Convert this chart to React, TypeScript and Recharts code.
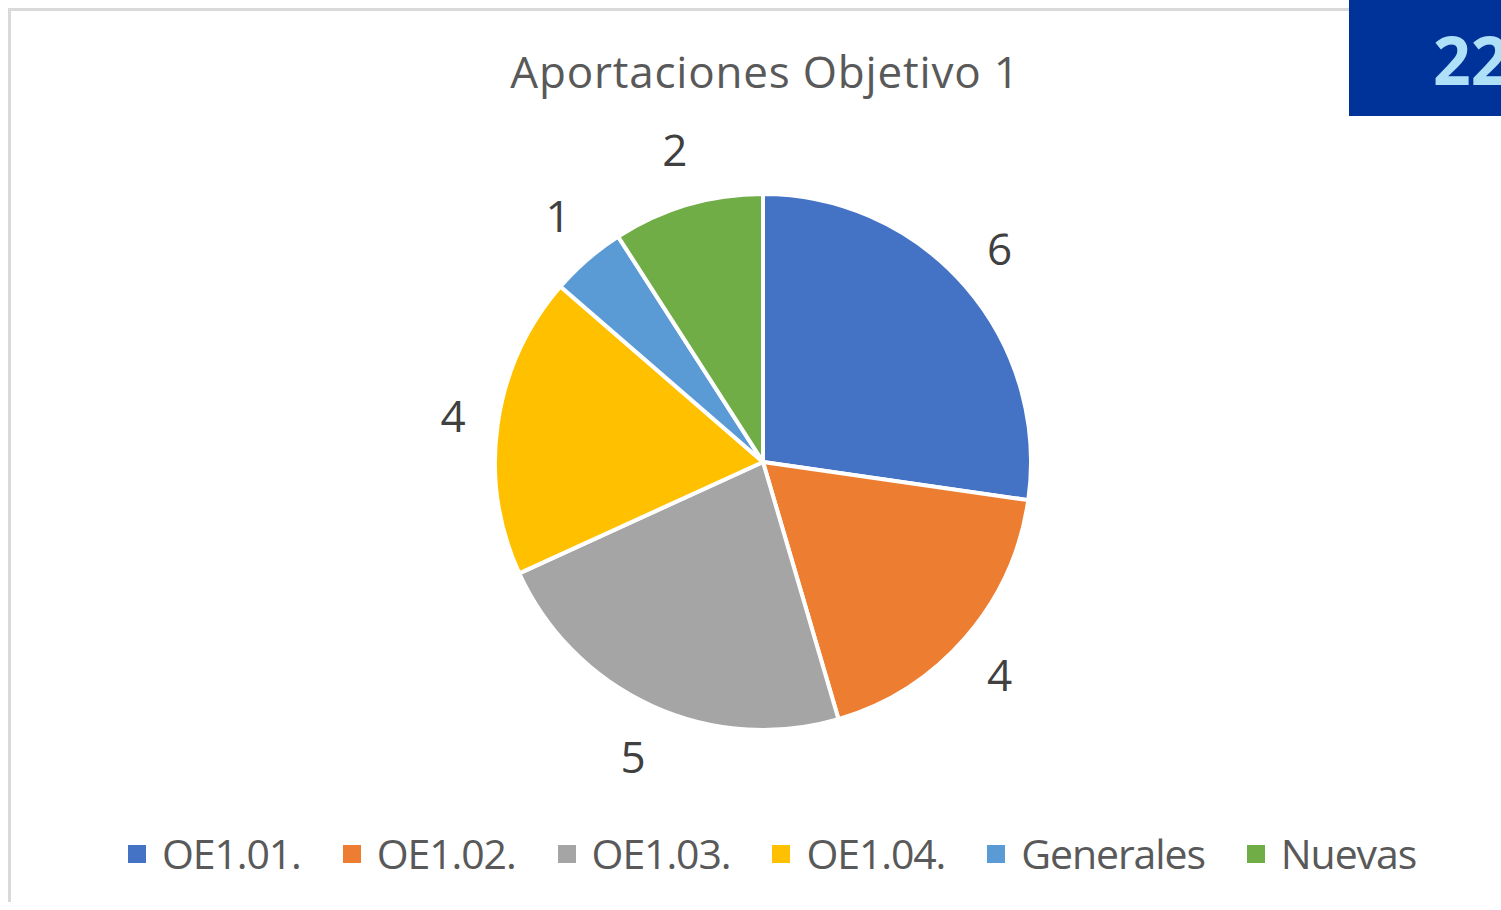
import { PieChart, Pie, Cell, Legend } from 'recharts';

const categories = ['OE1.01.', 'OE1.02.', 'OE1.03.', 'OE1.04.', 'Generales', 'Nuevas'];
const values = [6, 4, 5, 4, 1, 2];
const colors = ['#4472C4', '#ED7D31', '#A5A5A5', '#FFC000', '#5B9BD5', '#70AD47'];
const total = 22;

const data = categories.map((name, i) => ({ name, value: values[i] }));

const font = '"Open Sans", sans-serif';
const RAD = Math.PI / 180;

function renderLabel(props: any) {
  const { cx, cy, midAngle, outerRadius, value } = props;
  const rx = outerRadius + 45;
  const ry = outerRadius + 57;
  const x = cx + rx * Math.cos(-midAngle * RAD);
  const y = cy + ry * Math.sin(-midAngle * RAD);
  return (
    <text x={x} y={y} dy="0.36em" textAnchor="middle" fill="#404040" fontSize={44} fontFamily={font}>
      {value}
    </text>
  );
}

function renderLegend() {
  return (
    <div style={{ display: 'flex', justifyContent: 'center', alignItems: 'center', fontFamily: font }}>
      {categories.map((c, i) => (
        <div key={c} style={{ display: 'flex', alignItems: 'center', marginRight: i < categories.length - 1 ? 42 : 0 }}>
          <span style={{ width: 18, height: 18, background: colors[i], marginRight: 16, display: 'inline-block' }} />
          <span style={{ fontSize: 41, lineHeight: 1, letterSpacing: -1.1, color: '#595959' }}>{c}</span>
        </div>
      ))}
    </div>
  );
}

export default function App() {
  return (
    <>
      <div
        style={{
          position: 'relative',
          width: 1485,
          height: 894,
          borderTop: '3px solid #d9d9d9',
          borderLeft: '3px solid #d9d9d9',
          boxSizing: 'border-box',
          fontFamily: font,
        }}
      >
        <div
          style={{
            position: 'absolute',
            top: 38,
            left: 0,
            width: 1508,
            textAlign: 'center',
            fontSize: 44,
            letterSpacing: 0.8,
            lineHeight: 1,
            color: '#595959',
          }}
        >
          Aportaciones Objetivo 1
        </div>
        <PieChart width={1482} height={891} margin={{ top: 0, right: 0, bottom: 0, left: 0 }}>
          <Pie
            data={data}
            dataKey="value"
            nameKey="name"
            cx={752}
            cy={451}
            outerRadius={268}
            startAngle={90}
            endAngle={-270}
            stroke="#ffffff"
            strokeWidth={4}
            label={renderLabel}
            labelLine={false}
            isAnimationActive={false}
          >
            {data.map((d, i) => (
              <Cell key={d.name} fill={colors[i]} />
            ))}
          </Pie>
          <Legend content={renderLegend} wrapperStyle={{ top: 822, left: 20, width: 1482, bottom: 'auto' }} />
        </PieChart>
      </div>
      <div
        style={{
          position: 'fixed',
          left: 1349,
          top: 0,
          width: 152,
          height: 116,
          background: '#003399',
          overflow: 'hidden',
        }}
      >
        <div
          style={{
            position: 'absolute',
            left: 84,
            top: 26,
            fontFamily: '"Open Sans", sans-serif',
            fontWeight: 700,
            fontSize: 66,
            lineHeight: 1,
            color: '#aee0f7',
            whiteSpace: 'nowrap',
          }}
        >
          {total}
        </div>
      </div>
    </>
  );
}
